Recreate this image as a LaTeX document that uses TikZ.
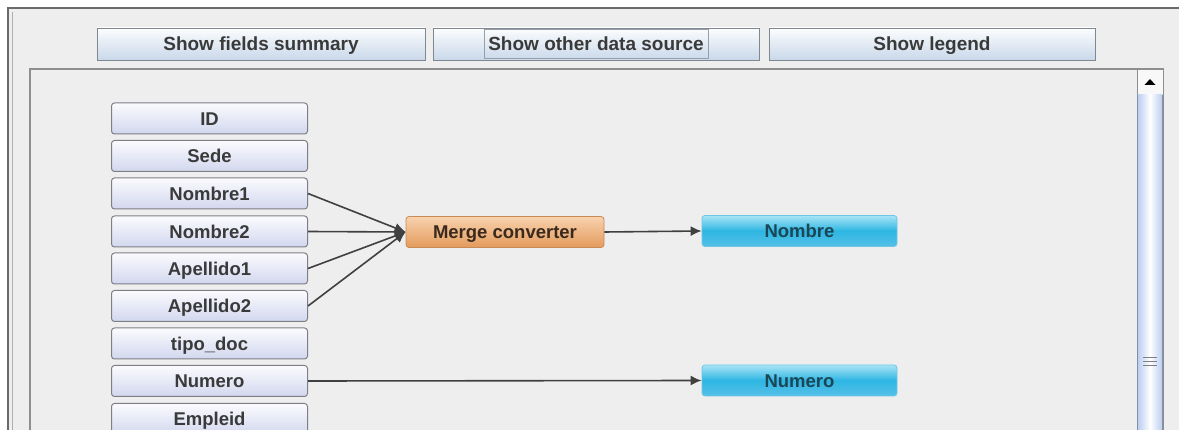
\documentclass[tikz,border=0pt]{standalone}
\usepackage{fontspec}
\setmainfont{Liberation Sans}
\usetikzlibrary{arrows.meta}
\definecolor{bg}{HTML}{EEEEEE}
\definecolor{frame}{HTML}{6A6A6A}
\definecolor{panelline}{HTML}{8E8E8E}
\definecolor{txt}{HTML}{3A3A3A}
\definecolor{fieldtop}{HTML}{FBFBFE}
\definecolor{fieldbot}{HTML}{D2D7EE}
\definecolor{fieldline}{HTML}{7E7E86}
\definecolor{btntop}{HTML}{FCFDFE}
\definecolor{btnbot}{HTML}{C9D8EA}
\definecolor{btnline}{HTML}{7F8790}
\definecolor{orgtop}{HTML}{F8D2AE}
\definecolor{orgbot}{HTML}{E49A5C}
\definecolor{orgline}{HTML}{C98A55}
\definecolor{orgtxt}{HTML}{3A2A1E}
\definecolor{cyantop}{HTML}{A8E4F6}
\definecolor{cyanmid}{HTML}{2DB6E2}
\definecolor{cyanbot}{HTML}{56C0E8}
\definecolor{cyanline}{HTML}{6FC6E4}
\definecolor{cyantxt}{HTML}{1C4656}
\definecolor{edge}{HTML}{404040}
\definecolor{thumb}{HTML}{B9CCF0}
\tikzset{
  btn/.style={draw=btnline, line width=0.9pt, top color=btntop, bottom color=btnbot,
    minimum height=32pt, inner sep=0pt, text=txt, text height=13.8pt, text depth=0pt,
    font=\fontsize{19}{19}\selectfont\bfseries},
  boxbase/.style={rounded corners=3pt, minimum height=31pt, inner sep=0pt,
    text height=13.4pt, text depth=0pt,
    font=\fontsize{18.5}{18.5}\selectfont\bfseries},
  field/.style={boxbase, draw=fieldline, line width=1pt,
    top color=fieldtop, bottom color=fieldbot, minimum width=196pt, text=txt},
  merge/.style={boxbase, draw=orgline, line width=0.8pt,
    top color=orgtop, bottom color=orgbot, minimum width=198pt, text=orgtxt},
  target/.style={boxbase, draw=cyanline, line width=0.8pt,
    top color=cyantop, bottom color=cyanbot, middle color=cyanmid,
    minimum width=195pt, text=cyantxt},
  conn/.style={draw=edge, line width=1.6pt,
    -{Latex[length=11pt,width=10pt]}},
}
\begin{document}
\begin{tikzpicture}[x=1pt,y=-1pt]
\useasboundingbox (0,0) rectangle (1179,430);
\clip (0,0) rectangle (1179,430);
% window
\fill[white] (0,0) rectangle (1179,430);
\fill[bg] (8,8) rectangle (1179,430);
\draw[frame, line width=2pt] (8,430) -- (8,8) -- (1179,8);
\draw[panelline!70, line width=0.8pt] (12,430) -- (12,12);
% buttons
\node[btn, minimum width=328pt] (b1) at (261,44) {Show fields summary};
\node[btn, minimum width=326pt] (b2) at (596,44) {Show other data source};
\node[btn, minimum width=326pt] (b3) at (932,44) {Show legend};
\node[draw=btnline!80, line width=0.6pt, minimum width=224pt, minimum height=29pt, inner sep=0pt] (focus) at (596,44) {};
% panel
\draw[panelline, line width=1.2pt] (30,430) -- (30,69) -- (1163,69) -- (1163,430);
% scrollbar
\node[draw=panelline, line width=0.8pt, fill=white!60!bg, minimum width=26pt, minimum height=26pt, inner sep=0pt] (up) at (1150,82) {};
\fill[black] (1144.5,85) -- (1155.5,85) -- (1150,79) -- cycle;
\shade[left color=thumb, right color=thumb, middle color=white] (1137.5,95) rectangle (1162.5,431);
\draw[thumb!70!black, line width=0.8pt] (1137.5,95) -- (1137.5,431) (1162.5,95) -- (1162.5,431);
\draw[gray, line width=0.9pt] (1143,357) -- (1157,357) (1143,361) -- (1157,361) (1143,365) -- (1157,365);
% field nodes
\node[field] (id) at (209.5,118.5) {ID};
\node[field] (sede) at (209.5,156) {Sede};
\node[field] (n1) at (209.5,193.5) {Nombre1};
\node[field] (n2) at (209.5,231.5) {Nombre2};
\node[field] (a1) at (209.5,268.5) {Apellido1};
\node[field] (a2) at (209.5,306) {Apellido2};
\node[field] (tipo) at (209.5,343.5) {tipo\_doc};
\node[field] (num) at (209.5,381) {Numero};
\node[field] (emp) at (209.5,419) {Empleid};
% converter and targets
\node[merge] (mc) at (505,232) {Merge converter};
\node[target] (tnom) at (799.5,231) {Nombre};
\node[target] (tnum) at (799.5,380.5) {Numero};
% connectors
\draw[conn] (n1.east) -- (mc.west);
\draw[conn] (n2.east) -- (mc.west);
\draw[conn] (a1.east) -- (mc.west);
\draw[conn] (a2.east) -- (mc.west);
\draw[conn] (mc.east) -- (tnom.west);
\draw[conn] (num.east) -- (tnum.west);
\end{tikzpicture}
\end{document}
